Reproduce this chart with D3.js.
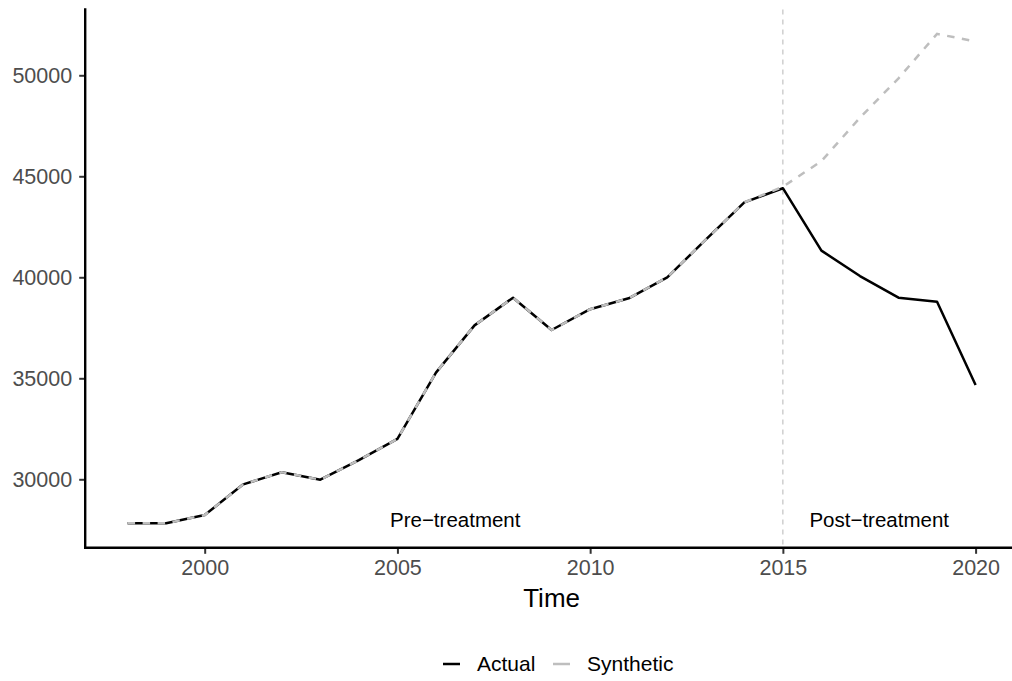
<!DOCTYPE html>
<html>
<head>
<meta charset="utf-8">
<script src="https://cdn.jsdelivr.net/npm/d3@7"></script>
<style>
  body { margin: 0; background: #fff; }
  svg { display: block; font-family: "Liberation Sans", Arial, sans-serif; }
</style>
</head>
<body>
<svg id="chart" width="1012" height="681"></svg>
<script>
// data
var years = [1998, 1999, 2000, 2001, 2002, 2003, 2004, 2005, 2006, 2007, 2008,
  2009, 2010, 2011, 2012, 2013, 2014, 2015, 2016, 2017, 2018, 2019, 2020];
var actual = [27830, 27820, 28230, 29750, 30350, 29980, 30950, 32000, 35280, 37620, 38990,
  37390, 38420, 38960, 40000, 41860, 43710, 44410, 41320, 40060, 38990, 38790, 34670];
var synthetic = [27830, 27820, 28230, 29750, 30350, 29980, 30950, 32000, 35280, 37620, 38990,
  37390, 38420, 38960, 40000, 41860, 43710, 44480, 45750, 47900, 49850, 52050, 51670];
var xTicks = [2000, 2005, 2010, 2015, 2020];
var yTicks = [30000, 35000, 40000, 45000, 50000];
var treatmentYear = 2015;
var labels = [
  { text: "Pre\u2212treatment", year: 2006.5, value: 28000 },
  { text: "Post\u2212treatment", year: 2017.5, value: 28000 }
];
var seriesNames = ["Actual", "Synthetic"];

var svg = d3.select("#chart"),
  panel = { left: 85.2, right: 1018, top: 9.4, bottom: 547.8 };

// ggplot style 5% expansion
function expand(ext) {
  var pad = (ext[1] - ext[0]) * 0.05;
  return [ext[0] - pad, ext[1] + pad];
}

var x = d3.scaleLinear()
  .domain(expand(d3.extent(years)))
  .range([panel.left, panel.right]);

var y = d3.scaleLinear()
  .domain(expand(d3.extent(actual.concat(synthetic))))
  .range([panel.bottom, panel.top]);

var data = years.map(function (d, i) {
  return { year: d, actual: actual[i], synthetic: synthetic[i] };
});

// treatment line
svg.append("line")
  .attr("x1", x(treatmentYear)).attr("x2", x(treatmentYear))
  .attr("y1", panel.top).attr("y2", panel.bottom)
  .attr("stroke", "#bebebe")
  .attr("stroke-width", 1.1)
  .attr("stroke-dasharray", "5,5");

var line = function (key) {
  return d3.line()
    .x(function (d) { return x(d.year); })
    .y(function (d) { return y(d[key]); });
};

svg.append("path")
  .datum(data)
  .attr("fill", "none")
  .attr("stroke", "#000")
  .attr("stroke-width", 2.5)
  .attr("stroke-linejoin", "round")
  .attr("d", line("actual"));

svg.append("path")
  .datum(data)
  .attr("fill", "none")
  .attr("stroke", "#bebebe")
  .attr("stroke-width", 2.5)
  .attr("stroke-dasharray", "7.5,7.5")
  .attr("d", line("synthetic"));

// annotations
svg.selectAll(".note")
  .data(labels)
  .enter().append("text")
  .attr("class", "note")
  .attr("x", function (d) { return x(d.year); })
  .attr("y", function (d) { return y(d.value); })
  .attr("dy", "0.35em")
  .attr("text-anchor", "middle")
  .attr("font-size", 20.5)
  .attr("fill", "#000")
  .text(function (d) { return d.text; });

// axes
var gx = svg.append("g")
  .attr("transform", "translate(0," + panel.bottom + ")")
  .call(d3.axisBottom(x).tickValues(xTicks).tickFormat(d3.format("d"))
    .tickSizeInner(6).tickSizeOuter(0).tickPadding(6));

var gy = svg.append("g")
  .attr("transform", "translate(" + panel.left + ",0)")
  .call(d3.axisLeft(y).tickValues(yTicks).tickFormat(d3.format("d"))
    .tickSizeInner(6).tickSizeOuter(0).tickPadding(7));

[gx, gy].forEach(function (g) {
  g.select(".domain").remove();
  g.selectAll(".tick line").attr("stroke", "#333").attr("stroke-width", 2);
  g.selectAll(".tick text")
    .attr("fill", "#4d4d4d")
    .attr("font-size", 21.5)
    .attr("font-family", "Liberation Sans, Arial, sans-serif");
});

svg.append("path")
  .attr("d", "M" + panel.left + "," + panel.top + "V" + panel.bottom + "H" + panel.right)
  .attr("fill", "none")
  .attr("stroke", "#000")
  .attr("stroke-width", 2.4)
  .attr("stroke-linecap", "square");

// axis title
svg.append("text")
  .attr("x", (panel.left + panel.right) / 2)
  .attr("y", 607)
  .attr("text-anchor", "middle")
  .attr("font-size", 26)
  .attr("fill", "#000")
  .text("Time");

// legend
var legendX = [443, 553],
  legendColors = ["#000", "#bebebe"];

var legend = svg.selectAll(".legend")
  .data(seriesNames)
  .enter().append("g")
  .attr("class", "legend")
  .attr("transform", function (d, i) { return "translate(" + legendX[i] + ",664)"; });

legend.append("line")
  .attr("x1", 0).attr("x2", 17)
  .attr("stroke", function (d, i) { return legendColors[i]; })
  .attr("stroke-width", 2.5);

legend.append("text")
  .attr("x", 34)
  .attr("dy", "0.35em")
  .attr("font-size", 21)
  .attr("fill", "#000")
  .text(function (d) { return d; });
</script>
</body>
</html>
